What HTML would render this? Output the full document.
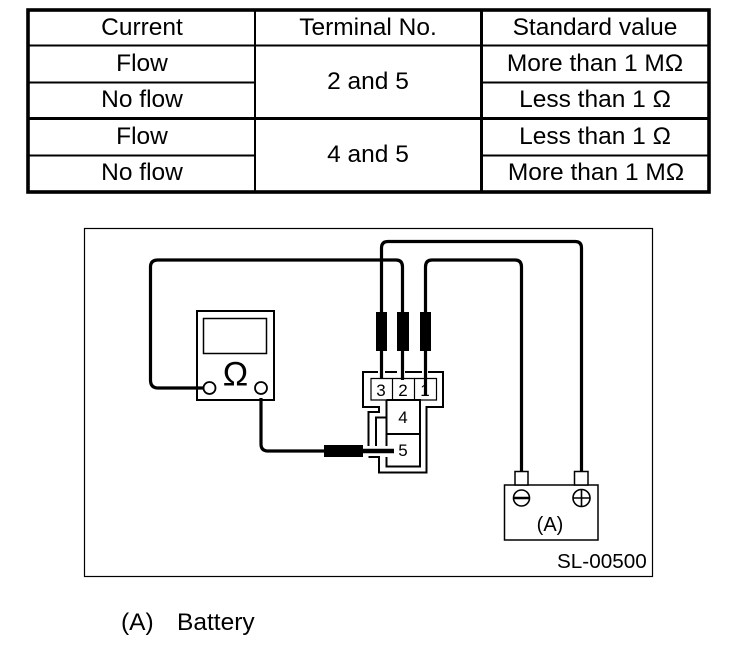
<!DOCTYPE html>
<html>
<head>
<meta charset="utf-8">
<style>
html,body{margin:0;padding:0;background:#fff;width:736px;height:650px;overflow:hidden}
svg{display:block}
text{font-family:"Liberation Sans",sans-serif;fill:#000}
.t{font-size:24.5px;text-anchor:middle}
.n{font-size:17px;text-anchor:middle}
.w{fill:none;stroke:#000;stroke-width:3.2}
.o{fill:none;stroke:#000;stroke-width:2}
.h{fill:none;stroke:#000;stroke-width:1.2}
</style>
</head>
<body>
<svg width="736" height="650" viewBox="0 0 736 650" xmlns="http://www.w3.org/2000/svg">
<!-- table -->
<rect x="28" y="10" width="681" height="182" fill="none" stroke="#000" stroke-width="3.6"/>
<g stroke="#000" fill="none">
<path d="M28 45.5H709" stroke-width="2"/>
<path d="M28 82.5H255M481 82.5H709" stroke-width="2"/>
<path d="M28 118.5H709" stroke-width="3"/>
<path d="M28 155.5H255M481 155.5H709" stroke-width="2"/>
<path d="M255 10V192" stroke-width="2"/>
<path d="M481.5 10V192" stroke-width="3"/>
</g>
<text class="t" x="142" y="35">Current</text>
<text class="t" x="142" y="71">Flow</text>
<text class="t" x="142" y="107">No flow</text>
<text class="t" x="142" y="144">Flow</text>
<text class="t" x="142" y="180">No flow</text>
<text class="t" x="368" y="35">Terminal No.</text>
<text class="t" x="368" y="89">2 and 5</text>
<text class="t" x="368" y="162">4 and 5</text>
<text class="t" x="595" y="35">Standard value</text>
<text class="t" x="595" y="71">More than 1 MΩ</text>
<text class="t" x="595" y="107">Less than 1 Ω</text>
<text class="t" x="595" y="144">Less than 1 Ω</text>
<text class="t" x="596" y="180">More than 1 MΩ</text>

<!-- diagram frame -->
<rect x="84.5" y="228.5" width="568" height="348" fill="none" stroke="#000" stroke-width="1.2"/>

<!-- wires -->
<path class="w" d="M381.5 378V248Q381.5 241.5 388 241.5H575Q581.5 241.5 581.5 248V471"/>
<path class="w" d="M203 388H158Q150.5 388 150.5 380V267Q150.5 260 158 260H396Q402.5 260 402.5 267V380"/>
<path class="w" d="M425.5 395V267Q425.5 260 432 260H515Q521.5 260 521.5 267V471"/>
<path class="w" d="M261 398V444Q261 451 268 451H326"/>

<!-- sleeves -->
<rect x="376" y="312" width="11" height="39"/>
<rect x="397" y="312" width="12" height="39"/>
<rect x="420" y="312" width="11" height="39"/>
<rect x="324" y="445" width="39" height="12"/>
<path d="M362 451H394" stroke="#000" stroke-width="4.6"/>

<!-- connector -->
<path class="o" d="M378 372H363V407H379V412H368.500V446M368.500 457H379V472.500H426.500V407H443V372H428M385 372H397M405 372H422"/>
<path class="h" d="M371 378.500H436.500V400H371ZM392.500 378.500V400M414.500 378.500V400"/>
<path class="o" d="M386.500 417.500H376V446M386.500 400V446M386.500 457V466.500H420V400H386.500M386.500 434H420"/>
<text class="n" x="381" y="396">3</text>
<text class="n" x="403" y="396">2</text>
<text class="n" x="425" y="396">1</text>
<text class="n" x="403" y="423">4</text>
<text class="n" x="403" y="456">5</text>

<!-- meter -->
<rect x="197" y="311" width="77" height="89" fill="none" stroke="#000" stroke-width="2"/>
<rect x="203.500" y="318.500" width="63" height="35" fill="none" stroke="#000" stroke-width="1.500"/>
<circle cx="209.500" cy="388" r="6" fill="#fff" stroke="#000" stroke-width="1.800"/>
<circle cx="261" cy="388" r="6" fill="#fff" stroke="#000" stroke-width="1.800"/>
<text x="235.500" y="385.500" style="font-size:34px;text-anchor:middle">Ω</text>

<!-- battery -->
<rect x="504.500" y="485" width="93.500" height="55" fill="none" stroke="#000" stroke-width="1.500"/>
<rect x="515" y="471.500" width="13" height="13.500" fill="#fff" stroke="#000" stroke-width="1.500"/>
<rect x="574.500" y="471.500" width="13.500" height="13.500" fill="#fff" stroke="#000" stroke-width="1.500"/>
<circle cx="521.500" cy="498" r="8" fill="none" stroke="#000" stroke-width="1.600"/>
<path d="M513.500 498H529.500" stroke="#000" stroke-width="2.500"/>
<circle cx="581.500" cy="498" r="8.500" fill="none" stroke="#000" stroke-width="1.600"/>
<path d="M573 498H590M581.500 489.500V506.500" stroke="#000" stroke-width="1.600"/>
<text x="550" y="531" style="font-size:20px;text-anchor:middle">(A)</text>
<text x="557" y="568" style="font-size:20.700px">SL-00500</text>

<text x="121" y="630" style="font-size:24.500px">(A)</text>
<text x="177" y="630" style="font-size:24.500px">Battery</text>
</svg>
</body>
</html>
